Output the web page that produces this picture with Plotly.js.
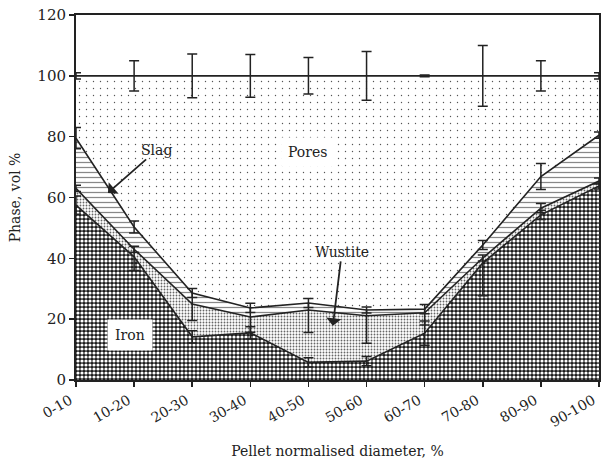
<!DOCTYPE html>
<html>
<head>
<meta charset="utf-8">
<script src="https://cdn.plot.ly/plotly-3.0.1.min.js"></script>
<style>html,body{margin:0;padding:0;background:#fff;}#chart{width:601px;height:466px;}</style>
</head>
<body>
<div id="chart"></div>
<script>
// Categories (pellet normalised diameter, %)
const categories = ['0-10','10-20','20-30','30-40','40-50','50-60','60-70','70-80','80-90','90-100'];
// Upper boundaries of the stacked phases (cumulative vol %)
const ironUpper    = [57.5, 40.5, 14.2, 15.5, 5.8, 6.2, 15.4, 38.5, 54.3, 63.8];
const wustiteUpper = [63.0, 43.0, 25.0, 20.7, 23.0, 21.1, 22.1, 40.1, 56.5, 65.4];
const slagUpper    = [79.5, 50.3, 28.6, 23.7, 25.3, 23.0, 23.3, 44.4, 66.9, 80.5];
const poresUpper   = [100, 100, 100, 100, 100, 100, 100, 100, 100, 100];
// Error bars (±, vol %)
const ironErr    = [3.0, 4.5, 2.0, 2.0, 1.5, 1.5, 4.0, 10.8, 1.5, 1.0];
const wustiteErr = [1.0, 1.0, 5.4, 5.0, 7.4, 9.0, 4.0, 1.0, 1.5, 1.0];
const slagErr    = [3.5, 2.0, 1.5, 1.5, 1.5, 1.0, 1.5, 1.5, 4.3, 1.0];
const poresErr   = [1.0, 5.0, 7.2, 7.0, 6.0, 8.0, 0.3, 10.0, 5.0, 1.0];

const xs = categories.map((c, i) => i);
const serif = 'DejaVu Serif';

function errY(arr) {
  return {type: 'data', array: arr, visible: true, color: '#222', thickness: 1.5, width: 5};
}
const lineStyle = {color: '#222', width: 1.6};

const traces = [
  {x: xs, y: ironUpper, type: 'scatter', mode: 'lines', name: 'Iron', fill: 'tozeroy',
   fillpattern: {shape: '.', fgcolor: '#ffffff', bgcolor: '#1a1a1a', size: 4, solidity: 0.5},
   line: lineStyle, error_y: errY(ironErr), hoverinfo: 'skip'},
  {x: xs, y: wustiteUpper, type: 'scatter', mode: 'lines', name: 'Wustite', fill: 'tonexty',
   fillpattern: {shape: '.', fgcolor: '#666666', bgcolor: '#ffffff', size: 3, solidity: 0.3},
   line: lineStyle, error_y: errY(wustiteErr), hoverinfo: 'skip'},
  {x: xs, y: slagUpper, type: 'scatter', mode: 'lines', name: 'Slag', fill: 'tonexty',
   fillpattern: {shape: '-', fgcolor: '#888888', bgcolor: '#ffffff', size: 5, solidity: 0.25},
   line: lineStyle, error_y: errY(slagErr), hoverinfo: 'skip'},
  {x: xs, y: poresUpper, type: 'scatter', mode: 'lines', name: 'Pores', fill: 'tonexty',
   fillpattern: {shape: '.', fgcolor: '#555555', bgcolor: '#ffffff', size: 7, solidity: 0.03},
   line: lineStyle, error_y: errY(poresErr), hoverinfo: 'skip'}
];

const layout = {
  width: 601, height: 466,
  margin: {l: 76, r: 2, t: 15, b: 86},
  paper_bgcolor: '#ffffff', plot_bgcolor: '#ffffff',
  showlegend: false,
  font: {family: serif, size: 14, color: '#222'},
  xaxis: {
    range: [0, 9], tickvals: xs, ticktext: categories, tickangle: -30, ticklabeloverflow: 'allow',
    ticklabelshift: -6,
    showgrid: false, zeroline: false, showline: true, mirror: true,
    linecolor: '#222', linewidth: 2, ticks: 'outside', ticklen: 5, tickwidth: 1.5, tickcolor: '#222',
    tickfont: {family: serif, size: 14, color: '#222'},
    title: {text: 'Pellet normalised diameter, %', font: {family: serif, size: 14, color: '#222'}, standoff: 17}
  },
  yaxis: {
    range: [0, 120], dtick: 20, showgrid: false, zeroline: false, showline: true, mirror: true,
    linecolor: '#222', linewidth: 2, ticks: 'outside', ticklen: 5, tickwidth: 1.5, tickcolor: '#222',
    tickfont: {family: serif, size: 15, color: '#222'},
    title: {text: 'Phase, vol %', font: {family: serif, size: 14, color: '#222'}, standoff: 13}
  },
  annotations: [
    {x: 0.55, y: 61.5, text: 'Slag', showarrow: true, ax: 49, ay: -43, arrowhead: 1, arrowsize: 1.4,
     arrowwidth: 1.8, arrowcolor: '#222', font: {family: serif, size: 14, color: '#222'}},
    {x: 4.42, y: 17.8, text: 'Wustite', showarrow: true, ax: 9, ay: -74, arrowhead: 1, arrowsize: 1.4,
     arrowwidth: 1.8, arrowcolor: '#222', font: {family: serif, size: 14, color: '#222'}},
    {x: 3.98, y: 75, text: 'Pores', showarrow: false, bgcolor: '#ffffff', borderpad: 6,
     font: {family: serif, size: 14, color: '#222'}},
    {x: 0.93, y: 14.8, text: 'Iron', showarrow: false, bgcolor: '#ffffff', borderpad: 7,
     font: {family: serif, size: 14, color: '#222'}}
  ]
};

Plotly.newPlot('chart', traces, layout, {staticPlot: true, displayModeBar: false});
</script>
</body>
</html>
